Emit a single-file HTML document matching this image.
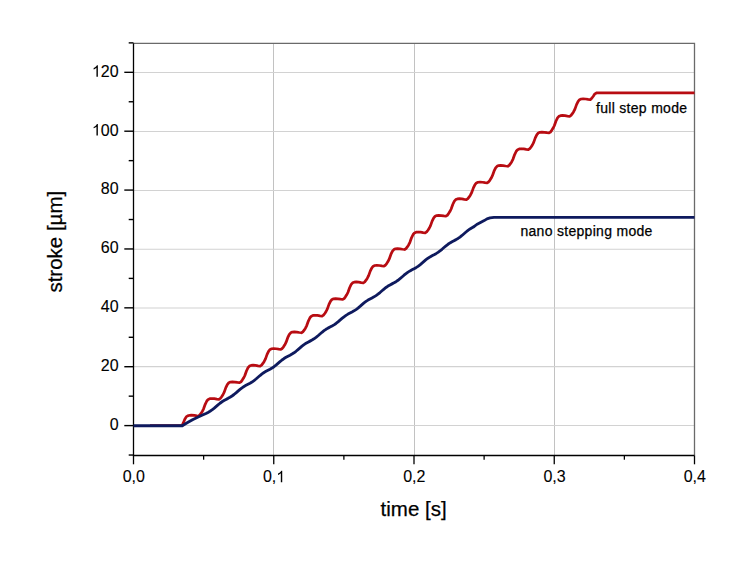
<!DOCTYPE html>
<html><head><meta charset="utf-8"><style>
html,body{margin:0;padding:0;background:#fff;width:750px;height:563px;overflow:hidden}
svg{position:absolute;left:0;top:0;font-family:"Liberation Sans",sans-serif}
.tl{font-size:16px;fill:#000;stroke:#000;stroke-width:0.1px}
.ax{font-size:20.5px;fill:#000;stroke:#000;stroke-width:0.25px}
.lg{font-size:14px;letter-spacing:0.3px;fill:#000;stroke:#000;stroke-width:0.25px}
</style></head><body>
<svg width="750" height="563" viewBox="0 0 750 563">
<line x1="273.5" y1="43.3" x2="273.5" y2="455.5" stroke="#c2c2c2" stroke-width="1"/>
<line x1="414.5" y1="43.3" x2="414.5" y2="455.5" stroke="#c2c2c2" stroke-width="1"/>
<line x1="554.5" y1="43.3" x2="554.5" y2="455.5" stroke="#c2c2c2" stroke-width="1"/>
<line x1="133.5" y1="72.5" x2="694.5" y2="72.5" stroke="#d2d2d2" stroke-width="1.1"/>
<line x1="133.5" y1="131.5" x2="694.5" y2="131.5" stroke="#d2d2d2" stroke-width="1.1"/>
<line x1="133.5" y1="190.5" x2="694.5" y2="190.5" stroke="#d2d2d2" stroke-width="1.1"/>
<line x1="133.5" y1="249.3" x2="694.5" y2="249.3" stroke="#d2d2d2" stroke-width="1.1"/>
<line x1="133.5" y1="308.0" x2="694.5" y2="308.0" stroke="#d2d2d2" stroke-width="1.1"/>
<line x1="133.5" y1="366.6" x2="694.5" y2="366.6" stroke="#d2d2d2" stroke-width="1.1"/>
<line x1="133.5" y1="425.5" x2="694.5" y2="425.5" stroke="#d2d2d2" stroke-width="1.1"/>
<path d="M133.5 43.3 H694.5 V455.5" fill="none" stroke="#6a6a6a" stroke-width="1.3"/>
<path d="M133.5 43.3 V455.5 H694.5" fill="none" stroke="#000" stroke-width="1.3"/>
<line x1="128.70" y1="455.04" x2="133.5" y2="455.04" stroke="#000" stroke-width="1.4"/>
<line x1="124.30" y1="425.60" x2="133.5" y2="425.60" stroke="#000" stroke-width="1.4"/>
<line x1="128.70" y1="396.16" x2="133.5" y2="396.16" stroke="#000" stroke-width="1.4"/>
<line x1="124.30" y1="366.72" x2="133.5" y2="366.72" stroke="#000" stroke-width="1.4"/>
<line x1="128.70" y1="337.28" x2="133.5" y2="337.28" stroke="#000" stroke-width="1.4"/>
<line x1="124.30" y1="307.84" x2="133.5" y2="307.84" stroke="#000" stroke-width="1.4"/>
<line x1="128.70" y1="278.40" x2="133.5" y2="278.40" stroke="#000" stroke-width="1.4"/>
<line x1="124.30" y1="248.96" x2="133.5" y2="248.96" stroke="#000" stroke-width="1.4"/>
<line x1="128.70" y1="219.52" x2="133.5" y2="219.52" stroke="#000" stroke-width="1.4"/>
<line x1="124.30" y1="190.08" x2="133.5" y2="190.08" stroke="#000" stroke-width="1.4"/>
<line x1="128.70" y1="160.64" x2="133.5" y2="160.64" stroke="#000" stroke-width="1.4"/>
<line x1="124.30" y1="131.20" x2="133.5" y2="131.20" stroke="#000" stroke-width="1.4"/>
<line x1="128.70" y1="101.76" x2="133.5" y2="101.76" stroke="#000" stroke-width="1.4"/>
<line x1="124.30" y1="72.32" x2="133.5" y2="72.32" stroke="#000" stroke-width="1.4"/>
<line x1="128.70" y1="42.88" x2="133.5" y2="42.88" stroke="#000" stroke-width="1.4"/>
<line x1="133.50" y1="455.5" x2="133.50" y2="464.30" stroke="#000" stroke-width="1.3"/>
<line x1="203.62" y1="455.5" x2="203.62" y2="459.70" stroke="#000" stroke-width="1.3"/>
<line x1="273.75" y1="455.5" x2="273.75" y2="464.30" stroke="#000" stroke-width="1.3"/>
<line x1="343.88" y1="455.5" x2="343.88" y2="459.70" stroke="#000" stroke-width="1.3"/>
<line x1="414.00" y1="455.5" x2="414.00" y2="464.30" stroke="#000" stroke-width="1.3"/>
<line x1="484.12" y1="455.5" x2="484.12" y2="459.70" stroke="#000" stroke-width="1.3"/>
<line x1="554.25" y1="455.5" x2="554.25" y2="464.30" stroke="#000" stroke-width="1.3"/>
<line x1="624.38" y1="455.5" x2="624.38" y2="459.70" stroke="#000" stroke-width="1.3"/>
<line x1="694.50" y1="455.5" x2="694.50" y2="464.30" stroke="#000" stroke-width="1.3"/>
<path d="M150.00 425.60 L182.00 425.60 L183.20 423.20 L184.80 419.20 L186.40 416.60 L188.50 415.50 L191.20 415.20 L194.50 415.40 L196.80 415.80 L198.30 416.00 L199.70 415.10 L201.00 413.40 L202.30 411.40 L203.60 408.80 L205.20 404.30 L206.80 401.00 L208.20 399.40 L209.80 398.70 L211.80 398.50 L214.30 398.70 L216.80 399.10 L218.93 399.35 L220.33 398.45 L221.63 396.75 L222.93 394.75 L224.23 392.15 L225.83 387.65 L227.43 384.35 L228.83 382.75 L230.43 382.05 L232.43 381.85 L234.93 382.05 L237.43 382.45 L239.56 382.70 L240.96 381.80 L242.26 380.10 L243.56 378.10 L244.86 375.50 L246.46 371.00 L248.06 367.70 L249.46 366.10 L251.06 365.40 L253.06 365.20 L255.56 365.40 L258.06 365.80 L260.19 366.05 L261.59 365.15 L262.89 363.45 L264.19 361.45 L265.49 358.85 L267.09 354.35 L268.69 351.05 L270.09 349.45 L271.69 348.75 L273.69 348.55 L276.19 348.75 L278.69 349.15 L280.82 349.40 L282.22 348.50 L283.52 346.80 L284.82 344.80 L286.12 342.20 L287.72 337.70 L289.32 334.40 L290.72 332.80 L292.32 332.10 L294.32 331.90 L296.82 332.10 L299.32 332.50 L301.45 332.75 L302.85 331.85 L304.15 330.15 L305.45 328.15 L306.75 325.55 L308.35 321.05 L309.95 317.75 L311.35 316.15 L312.95 315.45 L314.95 315.25 L317.45 315.45 L319.95 315.85 L322.08 316.10 L323.48 315.20 L324.78 313.50 L326.08 311.50 L327.38 308.90 L328.98 304.40 L330.58 301.10 L331.98 299.50 L333.58 298.80 L335.58 298.60 L338.08 298.80 L340.58 299.20 L342.71 299.45 L344.11 298.55 L345.41 296.85 L346.71 294.85 L348.01 292.25 L349.61 287.75 L351.21 284.45 L352.61 282.85 L354.21 282.15 L356.21 281.95 L358.71 282.15 L361.21 282.55 L363.34 282.80 L364.74 281.90 L366.04 280.20 L367.34 278.20 L368.64 275.60 L370.24 271.10 L371.84 267.80 L373.24 266.20 L374.84 265.50 L376.84 265.30 L379.34 265.50 L381.84 265.90 L383.97 266.15 L385.37 265.25 L386.67 263.55 L387.97 261.55 L389.27 258.95 L390.87 254.45 L392.47 251.15 L393.87 249.55 L395.47 248.85 L397.47 248.65 L399.97 248.85 L402.47 249.25 L404.60 249.50 L406.00 248.60 L407.30 246.90 L408.60 244.90 L409.90 242.30 L411.50 237.80 L413.10 234.50 L414.50 232.90 L416.10 232.20 L418.10 232.00 L420.60 232.20 L423.10 232.60 L425.23 232.85 L426.63 231.95 L427.93 230.25 L429.23 228.25 L430.53 225.65 L432.13 221.15 L433.73 217.85 L435.13 216.25 L436.73 215.55 L438.73 215.35 L441.23 215.55 L443.73 215.95 L445.86 216.20 L447.26 215.30 L448.56 213.60 L449.86 211.60 L451.16 209.00 L452.76 204.50 L454.36 201.20 L455.76 199.60 L457.36 198.90 L459.36 198.70 L461.86 198.90 L464.36 199.30 L466.49 199.55 L467.89 198.65 L469.19 196.95 L470.49 194.95 L471.79 192.35 L473.39 187.85 L474.99 184.55 L476.39 182.95 L477.99 182.25 L479.99 182.05 L482.49 182.25 L484.99 182.65 L487.12 182.90 L488.52 182.00 L489.82 180.30 L491.12 178.30 L492.42 175.70 L494.02 171.20 L495.62 167.90 L497.02 166.30 L498.62 165.60 L500.62 165.40 L503.12 165.60 L505.62 166.00 L507.75 166.25 L509.15 165.35 L510.45 163.65 L511.75 161.65 L513.05 159.05 L514.65 154.55 L516.25 151.25 L517.65 149.65 L519.25 148.95 L521.25 148.75 L523.75 148.95 L526.25 149.35 L528.38 149.60 L529.78 148.70 L531.08 147.00 L532.38 145.00 L533.68 142.40 L535.28 137.90 L536.88 134.60 L538.28 133.00 L539.88 132.30 L541.88 132.10 L544.38 132.30 L546.88 132.70 L549.01 132.95 L550.41 132.05 L551.71 130.35 L553.01 128.35 L554.31 125.75 L555.91 121.25 L557.51 117.95 L558.91 116.35 L560.51 115.65 L562.51 115.45 L565.01 115.65 L567.51 116.05 L569.64 116.30 L571.04 115.40 L572.34 113.70 L573.64 111.70 L574.94 109.10 L576.54 104.60 L578.14 101.30 L579.54 99.70 L581.14 99.00 L583.14 98.80 L585.64 99.00 L588.14 99.40 L590.27 99.65 L591.77 98.25 L593.27 96.25 L594.87 93.85 L596.47 92.95 L599.27 92.75 L694.50 92.75" fill="none" stroke="#b80c12" stroke-width="2.75" stroke-linejoin="round"/>
<path d="M133.50 425.70 L182.30 425.70 L185.50 423.80 L188.90 421.80 L193.00 419.50 L197.70 417.30 L202.00 415.30 L206.00 413.46 L208.00 412.42 L210.00 411.27 L212.00 409.93 L214.00 408.37 L216.00 406.66 L218.00 404.91 L220.00 403.25 L222.00 401.77 L224.00 400.50 L226.00 399.41 L228.00 398.37 L230.00 397.27 L232.00 396.00 L234.00 394.50 L236.00 392.83 L238.00 391.08 L240.00 389.37 L242.00 387.83 L244.00 386.50 L246.00 385.36 L248.00 384.32 L250.00 383.25 L252.00 382.04 L254.00 380.62 L256.00 378.99 L258.00 377.25 L260.00 375.52 L262.00 373.92 L264.00 372.52 L266.00 371.33 L268.00 370.27 L270.00 369.22 L272.00 368.07 L274.00 366.71 L276.00 365.14 L278.00 363.43 L280.00 361.68 L282.00 360.02 L284.00 358.55 L286.00 357.30 L288.00 356.21 L290.00 355.18 L292.00 354.07 L294.00 352.78 L296.00 351.28 L298.00 349.60 L300.00 347.85 L302.00 346.15 L304.00 344.61 L306.00 343.30 L308.00 342.17 L310.00 341.13 L312.00 340.06 L314.00 338.83 L316.00 337.40 L318.00 335.76 L320.00 334.02 L322.00 332.29 L324.00 330.70 L326.00 329.31 L328.00 328.13 L330.00 327.07 L332.00 326.03 L334.00 324.86 L336.00 323.49 L338.00 321.92 L340.00 320.19 L342.00 318.45 L344.00 316.80 L346.00 315.34 L348.00 314.10 L350.00 313.02 L352.00 311.98 L354.00 310.87 L356.00 309.57 L358.00 308.05 L360.00 306.37 L362.00 304.61 L364.00 302.92 L366.00 301.40 L368.00 300.09 L370.00 298.97 L372.00 297.93 L374.00 296.86 L376.00 295.62 L378.00 294.17 L380.00 292.53 L382.00 290.79 L384.00 289.06 L386.00 287.48 L388.00 286.10 L390.00 284.93 L392.00 283.88 L394.00 282.83 L396.00 281.65 L398.00 280.27 L400.00 278.69 L402.00 276.96 L404.00 275.21 L406.00 273.58 L408.00 272.13 L410.00 270.90 L412.00 269.82 L414.00 268.79 L416.00 267.66 L418.00 266.35 L420.00 264.83 L422.00 263.13 L424.00 261.38 L426.00 259.69 L428.00 258.18 L430.00 256.89 L432.00 255.77 L434.00 254.74 L436.00 253.65 L438.00 252.41 L440.00 250.95 L442.00 249.30 L444.00 247.55 L446.00 245.83 L448.00 244.26 L450.00 242.90 L452.00 241.73 L454.00 240.69 L456.00 239.63 L458.00 238.44 L460.00 237.05 L462.00 235.46 L464.00 233.73 L466.00 231.98 L468.00 230.35 L470.00 228.92 L472.00 227.70 L474.00 226.63 L476.70 224.50 L480.50 222.50 L484.20 220.60 L487.00 218.90 L490.00 217.90 L494.00 217.40 L694.50 217.40" fill="none" stroke="#0e1a5e" stroke-width="2.85" stroke-linejoin="round"/>
<text x="109.70" y="430.00" class="tl">0</text><text x="100.80" y="371.12" class="tl">2</text><text x="109.70" y="371.12" class="tl">0</text><text x="100.80" y="312.24" class="tl">4</text><text x="109.70" y="312.24" class="tl">0</text><text x="100.80" y="253.36" class="tl">6</text><text x="109.70" y="253.36" class="tl">0</text><text x="100.80" y="194.48" class="tl">8</text><text x="109.70" y="194.48" class="tl">0</text><path transform="translate(91.90 135.60) scale(0.007812 -0.007812)" d="M763 0H583V1147Q518 1085 413 1023Q308 961 223 930V1104Q374 1175 487 1276Q600 1377 647 1472H763Z"/><text x="100.80" y="135.60" class="tl">0</text><text x="109.70" y="135.60" class="tl">0</text><path transform="translate(91.90 76.72) scale(0.007812 -0.007812)" d="M763 0H583V1147Q518 1085 413 1023Q308 961 223 930V1104Q374 1175 487 1276Q600 1377 647 1472H763Z"/><text x="100.80" y="76.72" class="tl">2</text><text x="109.70" y="76.72" class="tl">0</text><text x="122.68" y="482.20" class="tl">0</text><text x="131.58" y="482.20" class="tl">,</text><text x="136.02" y="482.20" class="tl">0</text><text x="262.93" y="482.20" class="tl">0</text><text x="271.83" y="482.20" class="tl">,</text><path transform="translate(276.27 482.20) scale(0.007812 -0.007812)" d="M763 0H583V1147Q518 1085 413 1023Q308 961 223 930V1104Q374 1175 487 1276Q600 1377 647 1472H763Z"/><text x="403.18" y="482.20" class="tl">0</text><text x="412.08" y="482.20" class="tl">,</text><text x="416.52" y="482.20" class="tl">2</text><text x="543.43" y="482.20" class="tl">0</text><text x="552.33" y="482.20" class="tl">,</text><text x="556.77" y="482.20" class="tl">3</text><text x="683.68" y="482.20" class="tl">0</text><text x="692.58" y="482.20" class="tl">,</text><text x="697.02" y="482.20" class="tl">4</text><text x="380.6" y="515.8" class="ax">time [s]</text><text transform="translate(62.2 292.6) rotate(-90)" class="ax">stroke [µm]</text><text x="596.0" y="112.8" class="lg">full step mode</text><text x="520.4" y="235.7" class="lg">nano stepping mode</text>
</svg>
</body></html>
